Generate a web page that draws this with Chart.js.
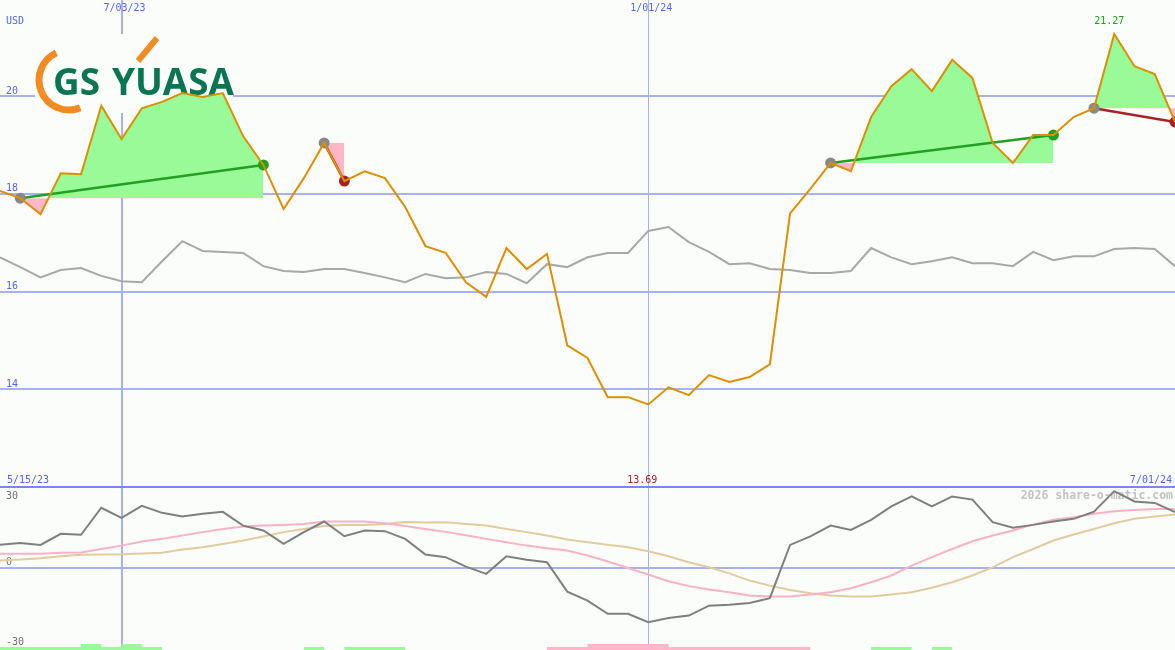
<!DOCTYPE html>
<html><head><meta charset="utf-8">
<script src="https://cdn.jsdelivr.net/npm/chart.js@4.4.1/dist/chart.umd.min.js"></script>
<style>
html,body{margin:0;padding:0;background:#fbfdfb;overflow:hidden}
#wrap{position:relative;width:1175px;height:650px}
#c1{position:absolute;left:0;top:0}
#sep{position:absolute;left:0;top:486px;width:1175px;height:2px;background:#7888ee}
#c2{position:absolute;left:0;top:488px}
</style></head><body>
<div id="wrap">
<canvas id="c1" width="1175" height="486"></canvas>
<div id="sep"></div>
<canvas id="c2" width="1175" height="162"></canvas>
</div>
<script>
// ---- data ----
const dates = ["5/22/23","5/29/23","6/05/23","6/12/23","6/19/23","6/26/23","7/03/23","7/10/23","7/17/23","7/24/23",
"7/31/23","8/07/23","8/14/23","8/21/23","8/28/23","9/04/23","9/11/23","9/18/23","9/25/23","10/02/23",
"10/09/23","10/16/23","10/23/23","10/30/23","11/06/23","11/13/23","11/20/23","11/27/23","12/04/23","12/11/23",
"12/18/23","12/25/23","1/01/24","1/08/24","1/15/24","1/22/24","1/29/24","2/05/24","2/12/24","2/19/24",
"2/26/24","3/04/24","3/11/24","3/18/24","3/25/24","4/01/24","4/08/24","4/15/24","4/22/24","4/29/24",
"5/06/24","5/13/24","5/20/24","5/27/24","6/03/24","6/10/24","6/17/24","6/24/24","7/01/24"];
const price = [18.06,17.91,17.58,18.42,18.40,19.80,19.12,19.75,19.88,20.06,
19.98,20.06,19.18,18.59,17.69,18.32,19.04,18.26,18.46,18.32,
17.73,16.93,16.79,16.19,15.89,16.89,16.46,16.77,14.90,14.64,
13.84,13.84,13.69,14.04,13.88,14.29,14.15,14.25,14.51,17.60,
18.10,18.63,18.46,19.57,20.20,20.55,20.10,20.74,20.37,19.04,
18.63,19.20,19.20,19.57,19.75,21.27,20.61,20.45,19.47];
const relative = [16.70,16.50,16.29,16.44,16.48,16.32,16.21,16.19,16.62,17.03,
16.83,16.81,16.79,16.52,16.42,16.40,16.46,16.46,16.38,16.29,
16.19,16.36,16.27,16.29,16.40,16.36,16.17,16.56,16.50,16.70,
16.79,16.79,17.24,17.32,17.01,16.81,16.56,16.58,16.46,16.44,
16.38,16.38,16.42,16.89,16.70,16.56,16.62,16.70,16.58,16.58,
16.52,16.81,16.64,16.72,16.72,16.87,16.89,16.87,16.52];
const momentum = [9.5,10.2,9.4,14.0,13.6,24.8,20.6,25.6,22.7,21.2,
22.3,23.1,17.4,15.4,9.8,14.7,19.1,13.0,15.4,15.1,
11.9,5.4,4.3,0.4,-2.6,4.7,3.2,2.2,-10.0,-13.7,
-19.2,-19.2,-22.7,-20.9,-19.9,-15.8,-15.4,-14.7,-12.7,9.4,
12.9,17.4,15.6,19.8,25.4,29.5,25.4,29.5,28.2,18.8,
16.5,17.7,19.1,20.2,23.2,31.7,27.4,26.8,23.0];
const avgFast = [5.7,5.7,5.7,6.1,6.2,7.7,9.1,10.8,11.9,13.3,
14.7,16.0,17.0,17.4,17.7,18.1,19.1,19.1,19.1,18.4,
17.2,16.0,14.8,13.4,11.9,10.5,9.1,8.0,7.1,5.0,
2.5,-0.2,-2.9,-5.7,-7.7,-9.1,-10.2,-11.6,-12.0,-12.0,
-11.2,-10.2,-8.6,-6.1,-3.3,0.8,4.3,7.7,10.9,13.3,
15.4,17.8,19.8,20.9,22.3,23.4,23.9,24.3,24.3];
const avgSlow = [2.9,3.3,3.9,4.7,5.3,5.4,5.5,5.8,6.1,7.5,
8.4,9.8,11.2,12.9,14.7,16.0,17.2,17.7,17.7,18.1,
18.9,18.7,18.8,18.1,17.4,16.0,14.7,13.3,11.6,10.5,
9.5,8.4,6.8,4.7,2.2,0.1,-2.4,-5.4,-7.5,-9.3,
-10.7,-11.6,-12.0,-12.0,-11.2,-10.2,-8.4,-6.1,-3.3,0.1,
4.3,7.7,11.2,13.7,16.0,18.4,20.2,21.2,22.0];
const signalBars = [1,1,1,1,2,1,2,1,0,0,
0,0,0,0,0,1,0,1,1,1,
0,0,0,0,0,0,0,-1,-1,-2,
-2,-2,-2,-1,-1,-1,-1,-1,-1,-1,
0,0,0,1,1,0,1,0,0,0,
0,0,0,0,0,0,0,0,0];
const signals = [[1,13],[16,17],[41,52],[54,58]];
const priceTicks = [14,16,18,20];
const oscTicks = [30,0,-30];
const markDates = ["7/03/23","1/01/24"];
const rangeLabels = ["5/15/23","7/01/24"];
const currency = "USD";
const watermark = "2026 share-o-matic.com";
const logoWords = ["GS","YUASA"];

// ---- styles ----
const BG = '#fbfdfb', GRID = '#a6b2f2', LBL = '#5566ee';
const GREEN_FILL = '#98fb98', PINK_FILL = '#ffb6c8';
const UP = '#22a022', DOWN = '#a82222', START = '#888888';
const FONT = '10px "DejaVu Sans Mono"';

const markIdx = markDates.map(d => dates.indexOf(d));
function gridX() {
  return {
    type: 'category', offset: false,
    afterBuildTicks: s => { s.ticks = markIdx.map(v => ({value: v})); },
    ticks: {display: false, autoSkip: false},
    grid: {color: GRID, lineWidth: c => c.index === 0 ? 2 : 1, drawTicks: false, offset: false},
    border: {display: false}
  };
}
const bgPlugin = {id: 'bg', beforeDraw(c) { const x = c.ctx; x.save(); x.fillStyle = BG; x.fillRect(0, 0, c.width, c.height); x.restore(); }};

// main chart datasets
const ds = [];
signals.forEach(([s, e]) => {
  ds.push({type: 'line', data: price.map((v, i) => (i >= s && i <= e) ? v : null),
    borderColor: 'rgba(0,0,0,0)', borderWidth: 0, pointRadius: 0, spanGaps: false,
    fill: {target: {value: price[s]}, above: GREEN_FILL, below: PINK_FILL}, order: 10});
});
ds.push({type: 'line', data: relative, borderColor: '#a8a8a8', borderWidth: 2, pointRadius: 0, fill: false, order: 9});
signals.forEach(([s, e]) => {
  const col = price[e] >= price[s] ? UP : DOWN;
  ds.push({type: 'line', data: price.map((v, i) => (i === s || i === e) ? v : null),
    borderColor: col, borderWidth: 2.5, pointRadius: 0, spanGaps: true, fill: false, order: 5});
});
const dotIdx = {};
signals.forEach(([s, e]) => { dotIdx[s] = START; dotIdx[e] = price[e] >= price[s] ? UP : DOWN; });
ds.push({type: 'line', data: price.map((v, i) => dotIdx[i] ? v : null), showLine: false,
  pointRadius: price.map((v, i) => dotIdx[i] ? 5.5 : 0), pointBorderWidth: 0,
  pointBackgroundColor: price.map((v, i) => dotIdx[i] || 'rgba(0,0,0,0)'), order: 4});
ds.push({type: 'line', data: price, borderColor: '#da9000', borderWidth: 2, pointRadius: 0, fill: false, order: 2});

const mainLabels = {
  id: 'mainLabels',
  beforeDatasetsDraw(chart) {
    const {ctx, scales: {x, y}} = chart;
    ctx.save();
    // logo
    ctx.fillStyle = BG; ctx.fillRect(35, 34, 198, 79);
    ctx.strokeStyle = '#f28b22'; ctx.lineCap = 'butt';
    ctx.lineWidth = 7; ctx.beginPath(); ctx.arc(69, 80, 30, 68 * Math.PI / 180, 245 * Math.PI / 180); ctx.stroke();
    ctx.lineWidth = 6; ctx.beginPath(); ctx.moveTo(138, 61); ctx.lineTo(157, 38); ctx.stroke();
    ctx.fillStyle = '#0a7552'; ctx.font = 'bold 38px "Open Sans"'; ctx.textBaseline = 'alphabetic'; ctx.textAlign = 'left';
    ctx.fillText(logoWords[0], 53, 95, 47); ctx.fillText(logoWords[1], 112, 95, 122);
    // texts
    ctx.font = FONT; ctx.textBaseline = 'middle'; ctx.fillStyle = LBL; ctx.textAlign = 'left';
    ctx.fillText(currency, 6, 21);
    priceTicks.forEach(t => ctx.fillText(String(t), 6, y.getPixelForValue(t) - 5));
    ctx.textAlign = 'center';
    markIdx.forEach((i, k) => ctx.fillText(markDates[k], x.getPixelForValue(i) + 3, 8));
    ctx.textAlign = 'left'; ctx.fillText(rangeLabels[0], 7, chart.height - 6);
    ctx.textAlign = 'right'; ctx.fillText(rangeLabels[1], chart.width - 3, chart.height - 6);
    const mx = Math.max(...price), mn = Math.min(...price);
    const iMax = price.indexOf(mx), iMin = price.indexOf(mn);
    ctx.textAlign = 'center';
    ctx.fillStyle = UP; ctx.fillText(mx.toFixed(2), x.getPixelForValue(iMax) - 5, y.getPixelForValue(mx) - 13);
    ctx.fillStyle = DOWN; ctx.fillText(mn.toFixed(2), x.getPixelForValue(iMin) - 6, chart.height - 6);
    ctx.restore();
  }
};

new Chart(document.getElementById('c1'), {
  type: 'line',
  data: {labels: dates, datasets: ds},
  options: {
    responsive: false, animation: false, devicePixelRatio: 1,
    layout: {padding: 0, autoPadding: false},
    elements: {line: {tension: 0}, point: {radius: 0}},
    plugins: {legend: {display: false}, tooltip: {enabled: false}},
    scales: {
      x: gridX(),
      y: {min: 12.022, max: 21.964, afterBuildTicks: s => { s.ticks = priceTicks.map(v => ({value: v})); },
        ticks: {display: false}, grid: {color: GRID, lineWidth: 2, drawTicks: false}, border: {display: false}}
    }
  },
  plugins: [bgPlugin, mainLabels]
});

const lowLabels = {
  id: 'lowLabels',
  beforeDatasetsDraw(chart) {
    const {ctx, scales: {y}} = chart;
    ctx.save();
    ctx.font = 'bold 11.5px "DejaVu Sans Mono"'; ctx.fillStyle = '#c2c2c2'; ctx.textAlign = 'right'; ctx.textBaseline = 'middle';
    ctx.fillText(watermark, chart.width - 2, 8);
    ctx.font = FONT; ctx.fillStyle = '#707070'; ctx.textAlign = 'left';
    oscTicks.forEach(t => {
      const p = y.getPixelForValue(t);
      const yy = t > 0 ? p + 1 : (t === 0 ? p - 5 : p + 3);
      ctx.fillText(String(t), 6, yy);
    });
    ctx.restore();
  }
};

const stepBand = (vals, color) => ({type: 'line', yAxisID: 'yb', data: vals, stepped: 'before',
  borderColor: 'rgba(0,0,0,0)', borderWidth: 0, pointRadius: 0, fill: 'origin', backgroundColor: color, order: 10});

new Chart(document.getElementById('c2'), {
  type: 'line',
  data: {labels: dates, datasets: [
    {type: 'line', data: momentum, borderColor: '#7f7f7f', borderWidth: 2, pointRadius: 0, fill: false, order: 1},
    {type: 'line', data: avgFast, borderColor: '#f8b2c8', borderWidth: 2, pointRadius: 0, fill: false, order: 2},
    {type: 'line', data: avgSlow, borderColor: '#e2cb9c', borderWidth: 2, pointRadius: 0, fill: false, order: 3},
    stepBand(signalBars.map(s => s > 0 ? s : 0), GREEN_FILL),
    stepBand(signalBars.map(s => s < 0 ? -s : 0), PINK_FILL)
  ]},
  options: {
    responsive: false, animation: false, devicePixelRatio: 1,
    layout: {padding: 0, autoPadding: false},
    elements: {line: {tension: 0}, point: {radius: 0}},
    plugins: {legend: {display: false}, tooltip: {enabled: false}},
    scales: {
      x: gridX(),
      y: {min: -34.2, max: 33.0, afterBuildTicks: s => { s.ticks = [{value: 0}]; },
        ticks: {display: false}, grid: {color: GRID, lineWidth: 2, drawTicks: false}, border: {display: false}},
      yb: {type: 'linear', min: 0, max: 54, display: false}
    }
  },
  plugins: [bgPlugin, lowLabels]
});
</script>
</body></html>
